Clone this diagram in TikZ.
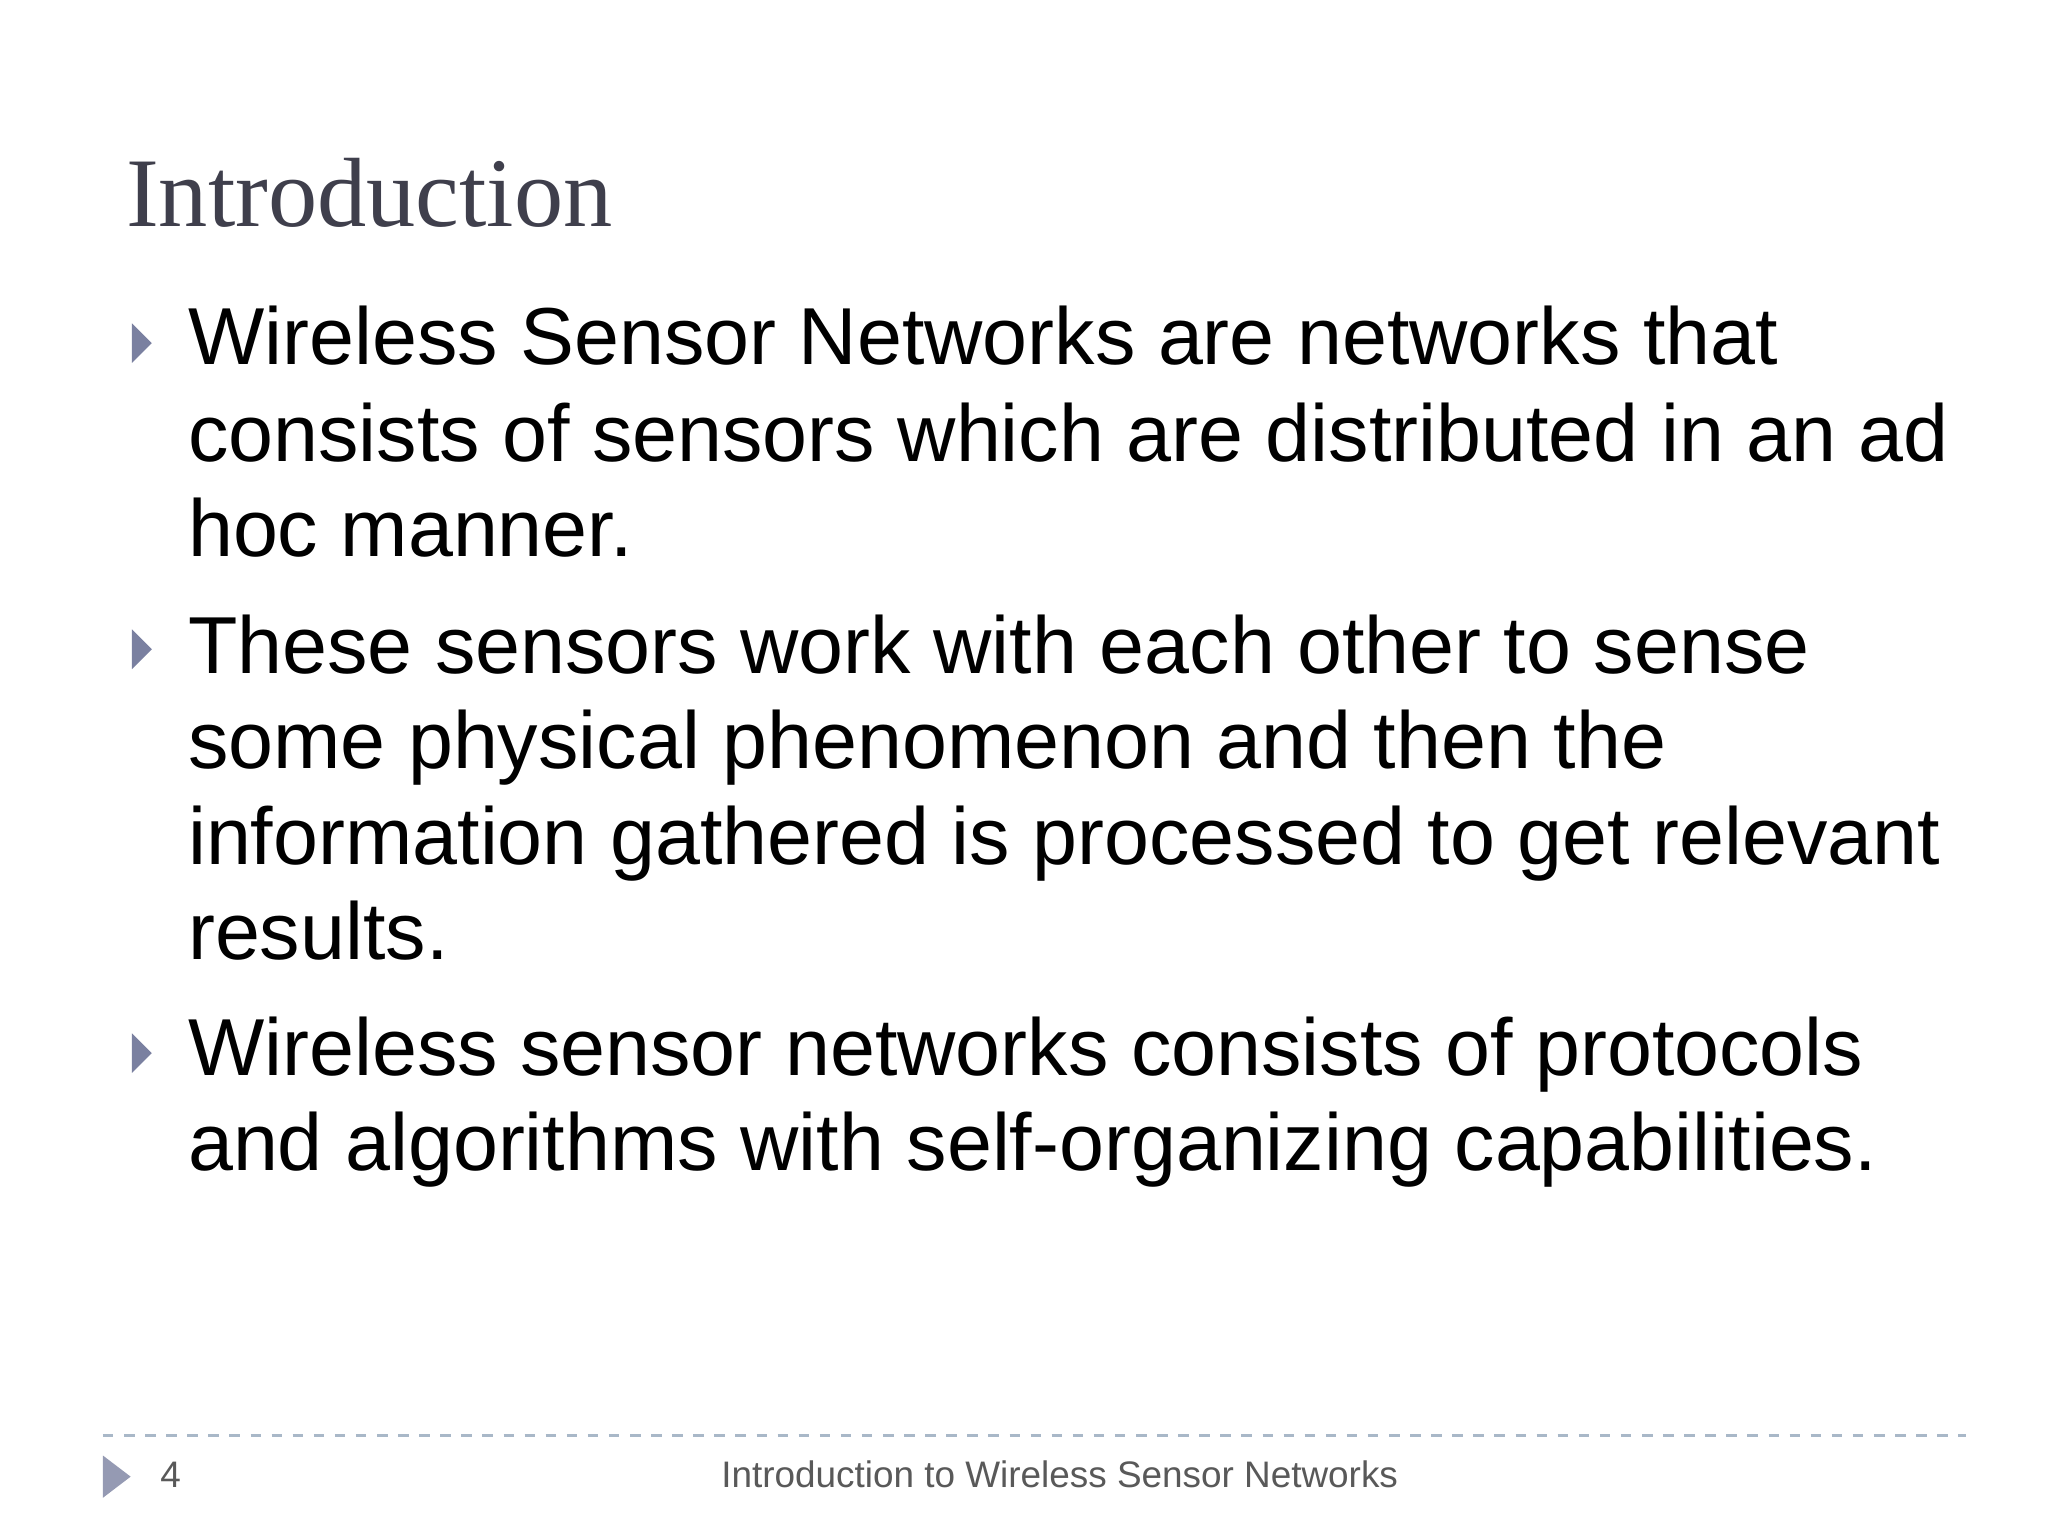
\documentclass[tikz,border=0pt]{standalone}
\usepackage{fontspec}
\setmainfont{Liberation Sans}
\newfontfamily\titlefont{Liberation Serif}
\begin{document}
\begin{tikzpicture}[x=0.013196cm,y=-0.013196cm,
  bodyline/.style={anchor=base west,inner sep=0,font=\fontsize{23}{27}\selectfont},
  bul/.style={fill=bulcol,draw=none}]
\definecolor{titlecol}{HTML}{3F3F4C}
\definecolor{bulcol}{HTML}{7A80A0}
\definecolor{footcol}{HTML}{595959}
\definecolor{dashcol}{HTML}{A9B8C8}
\useasboundingbox[fill=white] (0,0) rectangle (1552,1164);
\node[anchor=base west,inner sep=0,text=titlecol,font=\titlefont\fontsize{28}{32}\selectfont] (title) at (95,172) {Introduction};
\foreach \y in {260,492,798}{\fill[bul] (100,\y-15) -- (115,\y) -- (100,\y+15) -- cycle;}
\node[bodyline] (l1) at (142,276) {Wireless Sensor Networks are networks that};
\node[bodyline] (l2) at (142,350) {consists of sensors which are distributed in an ad};
\node[bodyline] (l3) at (142,422) {hoc manner.};
\node[bodyline] (l4) at (142,510) {These sensors work with each other to sense};
\node[bodyline] (l5) at (142,582) {some physical phenomenon and then the};
\node[bodyline] (l6) at (142,655) {information gathered is processed to get relevant};
\node[bodyline] (l7) at (142,727) {results.};
\node[bodyline] (l8) at (142,815) {Wireless sensor networks consists of protocols};
\node[bodyline] (l9) at (142,887) {and algorithms with self-organizing capabilities.};
\draw[dashcol,dashed,line width=0.8pt] (78,1088) -- (1490,1088);
\fill[bulcol!80] (78,1103) -- (99,1119) -- (78,1135) -- cycle;
\node[anchor=base west,inner sep=0,text=footcol,font=\fontsize{10.5}{12}\selectfont] (pg) at (121,1127) {4};
\node[anchor=base,inner sep=0,text=footcol,font=\fontsize{10.5}{12}\selectfont] (ft) at (803,1127) {Introduction to Wireless Sensor Networks};
\end{tikzpicture}
\end{document}
